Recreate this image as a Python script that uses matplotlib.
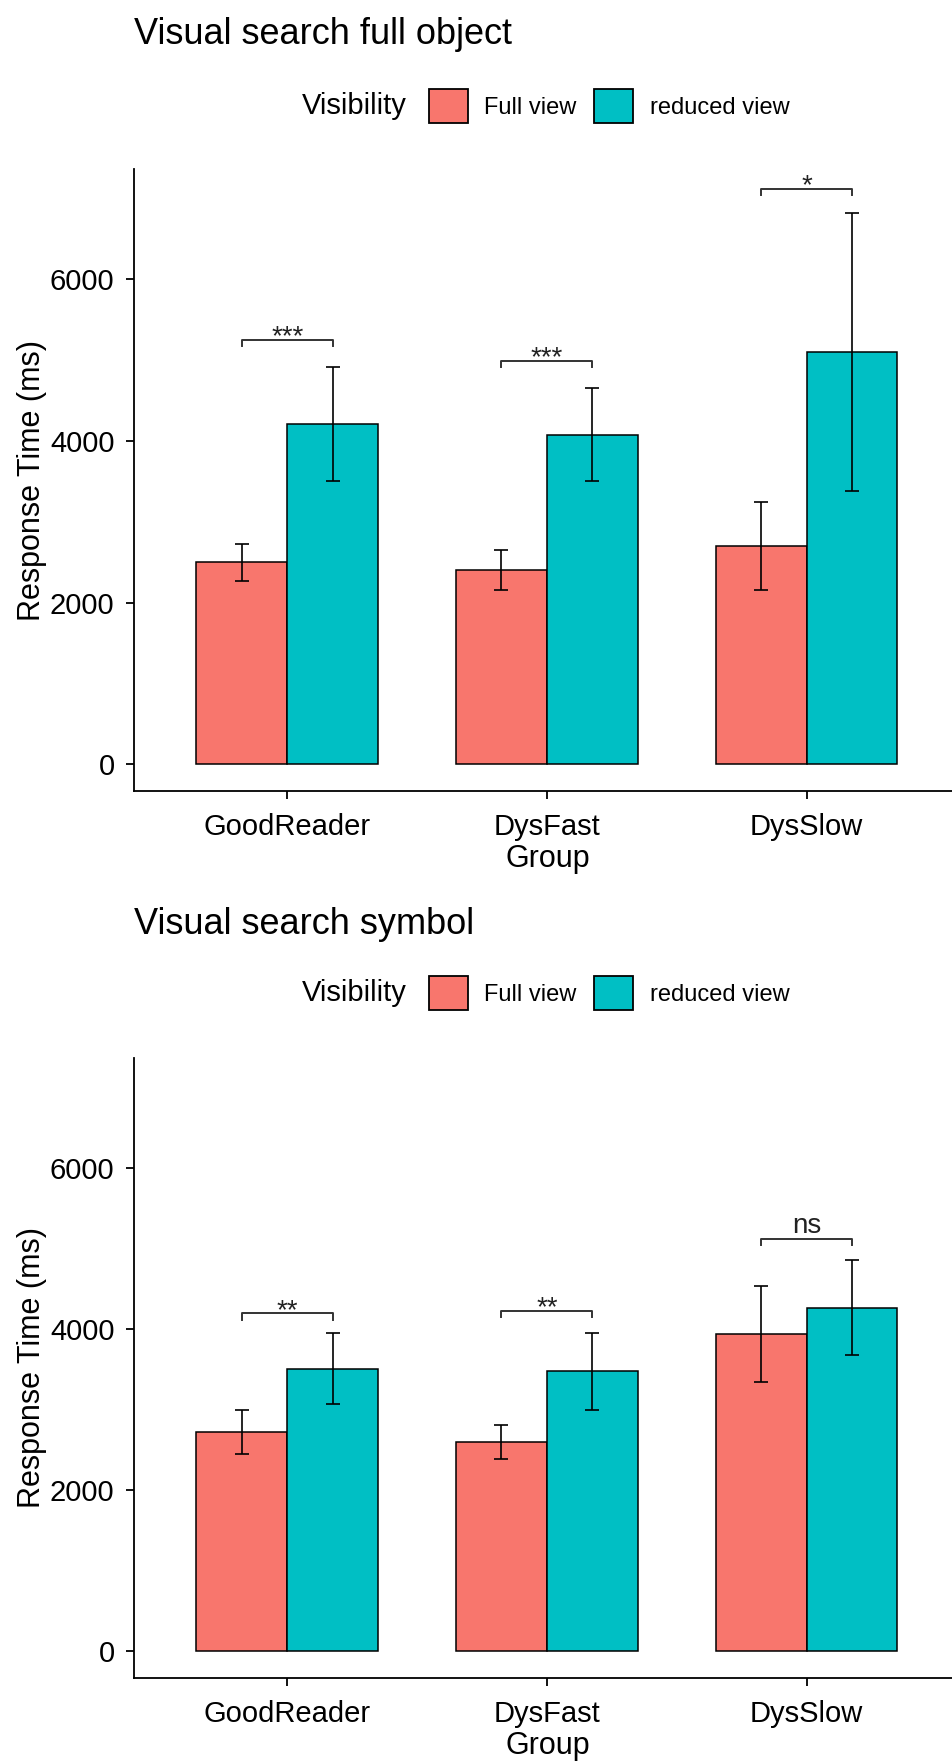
import numpy as np
import matplotlib.pyplot as plt
from matplotlib.patches import Patch

plt.rcParams['font.family'] = ['Liberation Sans', 'DejaVu Sans']

groups = ['GoodReader', 'DysFast', 'DysSlow']
visibility = ['Full view', 'reduced view']
colors = ['#F8766D', '#00BFC4']

# Visual search full object
obj_full = [2500, 2400, 2700]
obj_full_se = [228, 247, 540]
obj_reduced = [4210, 4080, 5100]
obj_reduced_se = [709, 575, 1717]
obj_sig_y = [5250, 4990, 7120]
obj_sig = ['***', '***', '*']

# Visual search symbol
sym_full = [2725, 2595, 3940]
sym_full_se = [270, 212, 600]
sym_reduced = [3510, 3478, 4267]
sym_reduced_se = [444, 480, 589]
sym_sig_y = [4194, 4223, 5117]
sym_sig = ['**', '**', 'ns']

W = 952
H = 1764
fig = plt.figure(figsize=(W / 100, H / 100), dpi=100)


def draw_panel(ax, full, full_se, red, red_se, sig_y, sig):
    x = np.arange(len(groups))
    bw = 0.35
    ax.bar(x - bw / 2, full, bw, color=colors[0], edgecolor='black', linewidth=1.1, zorder=2)
    ax.bar(x + bw / 2, red, bw, color=colors[1], edgecolor='black', linewidth=1.1, zorder=2)
    ax.errorbar(x - bw / 2, full, yerr=full_se, fmt='none', ecolor='black',
                elinewidth=1.2, capsize=5, capthick=1.2, zorder=3)
    ax.errorbar(x + bw / 2, red, yerr=red_se, fmt='none', ecolor='black',
                elinewidth=1.2, capsize=5, capthick=1.2, zorder=3)
    tip = 75
    for i in range(len(groups)):
        x0 = x[i] - bw / 2
        x1 = x[i] + bw / 2
        y = sig_y[i]
        ax.plot([x0, x0, x1, x1], [y - tip, y, y, y - tip], color='#333333', lw=1.4, zorder=3)
        off = -3.2 if '*' in sig[i] else 4.2
        ax.annotate(sig[i], (x[i], y), xytext=(0, off), textcoords='offset points',
                    ha='center', va='baseline', fontsize=20, color='#222222')
    ax.set_xlim(-0.59, 2.56)
    ax.set_ylim(-330, 7365)
    ax.set_yticks([0, 2000, 4000, 6000])
    ax.set_xticks(x)
    ax.set_xticklabels(groups)
    ax.spines['top'].set_visible(False)
    ax.spines['right'].set_visible(False)
    ax.spines['left'].set_linewidth(1.3)
    ax.spines['bottom'].set_linewidth(1.3)
    ax.tick_params(labelsize=21, length=6, width=1.3, pad=8, colors='black')
    ax.tick_params(axis='x', pad=10)


panels = [
    (169, 791, 'Visual search full object', 35, 106,
     obj_full, obj_full_se, obj_reduced, obj_reduced_se, obj_sig_y, obj_sig),
    (1058, 1678, 'Visual search symbol', 924, 993,
     sym_full, sym_full_se, sym_reduced, sym_reduced_se, sym_sig_y, sym_sig),
]

left = 134
for top, bottom, title, ty, ly, f, fse, r, rse, sy, sg in panels:
    ax = fig.add_axes([left / W, 1 - bottom / H, 1 - left / W, (bottom - top) / H])
    draw_panel(ax, f, fse, r, rse, sy, sg)
    fig.text(left / W, 1 - ty / H, title, fontsize=26, ha='left', va='center')
    fig.text(32 / W, 1 - (top + bottom) / 2 / H, 'Response Time (ms)', fontsize=22,
             rotation=90, ha='center', va='center')
    fig.text(548 / W, 1 - (bottom + 68) / H, 'Group',
             fontsize=22, ha='center', va='center')
    fig.text(407 / W, 1 - ly / H, 'Visibility', fontsize=21, ha='right', va='center')
    handles = [Patch(facecolor=c, edgecolor='black', linewidth=1.3) for c in colors]
    fig.legend(handles, visibility, loc='center left', bbox_to_anchor=(429 / W, 1 - ly / H),
               ncol=2, frameon=False, fontsize=17, handlelength=1.65, handleheight=1.8,
               handletextpad=0.7, columnspacing=0.75, borderpad=0, borderaxespad=0)

fig.savefig('out.png', dpi=100)
